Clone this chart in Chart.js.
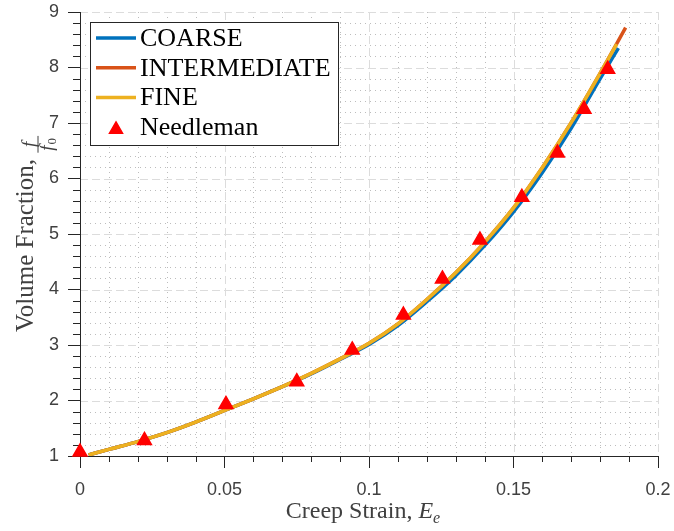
<!DOCTYPE html>
<html>
<head>
<meta charset="utf-8">
<title>Volume fraction vs creep strain</title>
<style>
  html, body { margin: 0; padding: 0; background: #fff; }
  #wrap { width: 674px; height: 531px; }
</style>
</head>
<body>
<div id="wrap"><canvas id="myChart" width="674" height="531"></canvas></div>
<script src="https://cdn.jsdelivr.net/npm/chart.js@4.4.1/dist/chart.umd.min.js"></script>
<script>
const ctx = document.getElementById('myChart');

// axis ticks
const xTickValues = [0, 0.05, 0.1, 0.15, 0.2];
const xTickLabels = ['0', '0.05', '0.1', '0.15', '0.2'];
const yTickValues = [1, 2, 3, 4, 5, 6, 7, 8, 9];
const yTickLabels = ['1', '2', '3', '4', '5', '6', '7', '8', '9'];
const xMinorStep = 0.01;
const yMinorStep = 0.2;

// series
const seriesNames = ['COARSE', 'INTERMEDIATE', 'FINE', 'Needleman'];
const seriesColors = ['#0072BD', '#D95319', '#EDB120', '#FF0000'];

const strainCoarse = [0.003, 0.01, 0.02, 0.03, 0.04, 0.05, 0.06, 0.07, 0.08, 0.09, 0.10, 0.11, 0.12, 0.13, 0.14, 0.15, 0.16, 0.17, 0.18, 0.1863];
const fracCoarse   = [1.02, 1.12, 1.26, 1.42, 1.61, 1.82, 2.03, 2.25, 2.48, 2.74, 3.01, 3.35, 3.78, 4.25, 4.79, 5.40, 6.11, 6.91, 7.80, 8.35];

const strainInter = [0.003, 0.01, 0.02, 0.03, 0.04, 0.05, 0.06, 0.07, 0.08, 0.09, 0.10, 0.11, 0.12, 0.13, 0.14, 0.15, 0.16, 0.17, 0.18, 0.1888];
const fracInter   = [1.02, 1.12, 1.26, 1.42, 1.61, 1.82, 2.03, 2.25, 2.49, 2.75, 3.03, 3.38, 3.82, 4.30, 4.85, 5.47, 6.20, 7.01, 7.90, 8.72];

const strainFine = [0.003, 0.01, 0.02, 0.03, 0.04, 0.05, 0.06, 0.07, 0.08, 0.09, 0.10, 0.11, 0.12, 0.13, 0.14, 0.15, 0.16, 0.17, 0.18, 0.1857];
const fracFine   = [1.02, 1.12, 1.26, 1.42, 1.61, 1.82, 2.03, 2.25, 2.49, 2.75, 3.03, 3.38, 3.82, 4.30, 4.85, 5.47, 6.20, 7.01, 7.90, 8.42];

const strainNeedleman = [0, 0.0223, 0.0505, 0.075, 0.0942, 0.1119, 0.1254, 0.1384, 0.1529, 0.1652, 0.1744, 0.1826];
const fracNeedleman   = [1.07, 1.28, 1.93, 2.34, 2.91, 3.54, 4.19, 4.89, 5.66, 6.46, 7.25, 7.97];

const SERIF = '"Liberation Serif", "DejaVu Serif", serif';
const SANS = '"Liberation Sans", Arial, sans-serif';
const AXIS_COLOR = '#262626';
const LABEL_COLOR = '#404040';

function pts(xs, ys) {
  return xs.map((x, i) => ({ x: x, y: ys[i] }));
}

function curve(i, xs, ys, order) {
  return {
    label: seriesNames[i],
    data: pts(xs, ys),
    showLine: true,
    borderColor: seriesColors[i],
    backgroundColor: seriesColors[i],
    borderWidth: 3.5,
    borderCapStyle: 'butt',
    pointRadius: 0,
    cubicInterpolationMode: 'monotone',
    order: order
  };
}

// grid lines, minor ticks (drawn under the scales)
const gridPlugin = {
  id: 'matlabGrid',
  beforeDraw(chart) {
    const c = chart.ctx, a = chart.chartArea;
    const xs = chart.scales.x, ys = chart.scales.y;
    const line = (x1, y1, x2, y2) => { c.beginPath(); c.moveTo(x1, y1); c.lineTo(x2, y2); c.stroke(); };
    c.save();
    c.fillStyle = '#fff';
    c.fillRect(0, 0, chart.width, chart.height);
    c.lineWidth = 1;

    const xMinor = [], yMinor = [];
    for (let v = xMinorStep; v < xs.max - 1e-9; v += xMinorStep) {
      if (Math.abs(v / 0.05 - Math.round(v / 0.05)) > 1e-6) xMinor.push(v);
    }
    for (let v = ys.min + yMinorStep; v < ys.max - 1e-9; v += yMinorStep) {
      if (Math.abs(v - Math.round(v)) > 1e-6) yMinor.push(v);
    }

    // minor dotted grid
    c.strokeStyle = '#bdbdbd';
    c.setLineDash([1, 4]);
    xMinor.forEach(v => { const p = Math.round(xs.getPixelForValue(v)) + 0.5; line(p, a.top, p, a.bottom); });
    yMinor.forEach(v => { const p = Math.round(ys.getPixelForValue(v)) + 0.5; line(a.left, p, a.right, p); });

    // major dashed grid
    c.strokeStyle = '#dcdcdc';
    c.setLineDash([8, 4]);
    xTickValues.forEach(v => { if (v === xs.min) return; const p = Math.round(xs.getPixelForValue(v)) + 0.5; line(p, a.top, p, a.bottom); });
    yTickValues.forEach(v => { if (v === ys.min) return; const p = Math.round(ys.getPixelForValue(v)) + 0.5; line(a.left, p, a.right, p); });

    // minor ticks outside the axes
    c.setLineDash([]);
    c.strokeStyle = AXIS_COLOR;
    xMinor.forEach(v => { const p = Math.round(xs.getPixelForValue(v)) + 0.5; line(p, a.bottom, p, a.bottom + 6); });
    yMinor.forEach(v => { const p = Math.round(ys.getPixelForValue(v)) + 0.5; line(a.left - 7, p, a.left, p); });
    c.restore();
  }
};

// axis titles + boxed legend
const labelPlugin = {
  id: 'matlabLabels',
  afterDraw(chart) {
    const c = chart.ctx, a = chart.chartArea;
    c.save();

    // x title: Creep Strain, E_e
    const parts = [
      { t: 'Creep Strain, ', font: '24px ' + SERIF, dy: 0 },
      { t: 'E', font: 'italic 24px ' + SERIF, dy: 0 },
      { t: 'e', font: 'italic 16px ' + SERIF, dy: 5 }
    ];
    let w = 0;
    parts.forEach(p => { c.font = p.font; p.w = c.measureText(p.t).width; w += p.w; });
    let cx = 363 - w / 2;
    c.fillStyle = LABEL_COLOR;
    c.textBaseline = 'alphabetic';
    c.textAlign = 'left';
    parts.forEach(p => { c.font = p.font; c.fillText(p.t, cx, 518 + p.dy); cx += p.w; });

    // y title: Volume Fraction, f/f0 (rotated)
    c.save();
    c.translate(33, 234);
    c.rotate(-Math.PI / 2);
    const main = 'Volume Fraction, ';
    c.font = '25px ' + SERIF;
    const wm = c.measureText(main).width;
    c.font = 'italic 19px ' + SERIF;
    const wf = c.measureText('f').width;
    c.font = '13px ' + SERIF;
    const w0 = c.measureText('0').width;
    const wfrac = wf + w0 + 5;
    let sx = -(wm + wfrac) / 2;
    c.font = '25px ' + SERIF;
    c.fillText(main, sx, 0);
    sx += wm;
    const bar = 5;
    c.strokeStyle = LABEL_COLOR;
    c.lineWidth = 1;
    c.beginPath(); c.moveTo(sx, bar); c.lineTo(sx + wfrac, bar); c.stroke();
    c.font = 'italic 19px ' + SERIF;
    c.fillText('f', sx + (wfrac - wf) / 2, bar - 3);
    c.fillText('f', sx + 2, bar + 15);
    c.font = '13px ' + SERIF;
    c.fillText('0', sx + 3 + wf, bar + 18);
    c.restore();

    // legend box
    const bx = 90.5, by = 22.5, bw = 248, bh = 123;
    c.fillStyle = '#fff';
    c.fillRect(bx, by, bw, bh);
    c.strokeStyle = AXIS_COLOR;
    c.lineWidth = 1;
    c.strokeRect(bx, by, bw, bh);
    c.font = '26px ' + SERIF;
    c.textBaseline = 'middle';
    seriesNames.forEach((name, i) => {
      const ry = 38 + i * 29.8;
      if (i < 3) {
        c.strokeStyle = seriesColors[i];
        c.lineWidth = 3.5;
        c.beginPath(); c.moveTo(96, ry); c.lineTo(136, ry); c.stroke();
      } else {
        c.fillStyle = seriesColors[i];
        c.strokeStyle = seriesColors[i];
        c.lineWidth = 1.5;
        Chart.helpers.drawPoint(c, { pointStyle: 'triangle', radius: 7.5, borderWidth: 1.5 }, 116, ry + 2);
      }
      c.fillStyle = '#000';
      c.fillText(name, 140, ry + 1);
    });
    c.restore();
  }
};

new Chart(ctx, {
  type: 'scatter',
  data: {
    datasets: [
      {
        label: seriesNames[3],
        data: pts(strainNeedleman, fracNeedleman),
        pointStyle: 'triangle',
        pointRadius: 8,
        pointBorderWidth: 1.5,
        backgroundColor: seriesColors[3],
        borderColor: seriesColors[3],
        clip: false,
        order: 0
      },
      curve(2, strainFine, fracFine, 1),
      curve(1, strainInter, fracInter, 2),
      curve(0, strainCoarse, fracCoarse, 3)
    ]
  },
  options: {
    responsive: false,
    animation: false,
    devicePixelRatio: 1,
    events: [],
    layout: { padding: { left: 0, top: 12, right: 16, bottom: 0 } },
    plugins: {
      legend: { display: false },
      tooltip: { enabled: false }
    },
    scales: {
      x: {
        type: 'linear',
        min: 0,
        max: 0.2,
        afterBuildTicks: s => { s.ticks = xTickValues.map(v => ({ value: v })); },
        afterFit: s => { s.height = 75; s.paddingLeft = 0; s.paddingRight = 0; },
        ticks: {
          callback: (v, i) => xTickLabels[i],
          font: { family: SANS, size: 18 },
          color: LABEL_COLOR,
          padding: 11,
          maxRotation: 0
        },
        grid: { display: true, drawOnChartArea: false, drawTicks: true, tickLength: 12, tickColor: AXIS_COLOR, tickWidth: 1 },
        border: { display: true, color: AXIS_COLOR, width: 1 }
      },
      y: {
        type: 'linear',
        min: 1,
        max: 9,
        afterBuildTicks: s => { s.ticks = yTickValues.map(v => ({ value: v })); },
        afterFit: s => { s.width = 80; s.paddingTop = 0; s.paddingBottom = 0; },
        ticks: {
          callback: (v, i) => yTickLabels[i],
          font: { family: SANS, size: 18 },
          color: LABEL_COLOR,
          padding: 9
        },
        grid: { display: true, drawOnChartArea: false, drawTicks: true, tickLength: 12, tickColor: AXIS_COLOR, tickWidth: 1 },
        border: { display: true, color: AXIS_COLOR, width: 1 }
      }
    }
  },
  plugins: [gridPlugin, labelPlugin]
});
</script>
</body>
</html>
